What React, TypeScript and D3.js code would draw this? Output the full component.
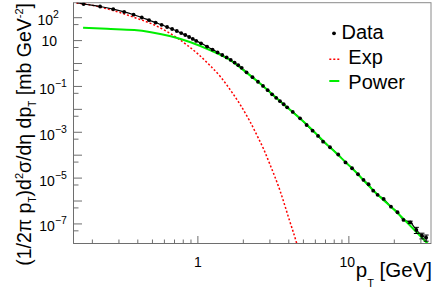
import * as d3 from "d3";

// measured spectrum (bin centres in GeV, values in mb GeV^-2)
const pT = [
  0.175, 0.225, 0.275, 0.325, 0.375, 0.425, 0.475, 0.525, 0.575, 0.625, 0.675,
  0.725, 0.775, 0.825, 0.875, 0.925, 0.975, 1.05, 1.15, 1.25, 1.35, 1.45, 1.55,
  1.65, 1.75, 1.85, 1.95, 2.1, 2.3, 2.5, 2.7, 2.9, 3.1, 3.3, 3.5, 3.7, 3.9, 4.25,
  4.75, 5.25, 5.75, 6.25, 6.75, 7.5, 8.5, 9.5, 10.5, 11.5, 12.5, 13.5, 14.5,
  15.5, 17, 19, 21, 23, 25.5, 28, 30.5, 32.5,
];
const spectrum = [
  396, 308, 235, 179, 135, 102, 77.8, 61.1, 49.0, 39.3, 32.1, 26.3, 21.3, 17.6,
  14.4, 11.8, 9.72, 7.64, 5.48, 4.06, 3.06, 2.36, 1.84, 1.43, 1.1, 0.847, 0.646,
  0.415, 0.254, 0.16, 0.105, 0.0687, 0.0455, 0.032, 0.0228, 0.0167, 0.0123,
  0.00776, 0.00408, 0.00208, 0.00117, 0.00069, 0.000389, 0.000222, 0.000107,
  4.81e-5, 2.69e-5, 1.47e-5, 8.3e-6, 5.38e-6, 2.83e-6, 1.87e-6, 1.23e-6,
  5.68e-7, 3.24e-7, 1.49e-7, 1.18e-7, 5.46e-8, 3.08e-8, 2.52e-8,
];
// relative errors, only visible at high pT
const relErr = [
  0.02, 0.02, 0.02, 0.02, 0.02, 0.02, 0.02, 0.02, 0.02, 0.02, 0.02, 0.02, 0.02,
  0.02, 0.02, 0.02, 0.02, 0.02, 0.02, 0.02, 0.02, 0.02, 0.02, 0.02, 0.02, 0.02,
  0.02, 0.02, 0.02, 0.02, 0.02, 0.02, 0.02, 0.02, 0.02, 0.02, 0.02, 0.02, 0.02,
  0.02, 0.02, 0.02, 0.02, 0.03, 0.03, 0.03, 0.03, 0.04, 0.04, 0.05, 0.05, 0.06,
  0.06, 0.08, 0.09, 0.1, 0.12, 0.3, 0.28, 0.3,
];

// total fit value at the left edge (black line)
const fitStart = [0.157, 451];

// exponential component
const expX = [0.157, 0.2, 0.2665, 0.3, 0.4, 0.5, 0.6, 0.7, 0.85, 1.0, 1.2, 1.41, 1.7, 1.91, 2.2, 2.5, 2.72, 3.0, 3.5, 4.0, 4.51, 4.7];
const expY = [440, 347, 217, 173, 90.6, 52.5, 28.8, 15.8, 6.3, 2.63, 0.83, 0.267, 0.05, 0.0158, 3.16e-3, 6.03e-4, 1.9e-4, 3.98e-5, 2.82e-6, 1.78e-7, 1.43e-8, 5.2e-9];

// power-law component
const powX = [0.1736, 0.25, 0.379, 0.489, 0.661, 0.895, 1.212, 1.65, 2.1, 2.5, 3.5, 5, 7.5, 10.5, 15, 21, 33.4];
const powY = [36.6, 32.7, 29.0, 23.3, 15.6, 8.5, 3.75, 1.36, 0.40, 0.159, 0.0228, 0.00292, 2.2e-4, 2.67e-5, 2.35e-6, 3.0e-7, 1.34e-8];

const xMajor = [1, 10];
const xLabels = ["1", "10"];
const xMinor = [0.2, 0.3, 0.4, 0.5, 0.6, 0.7, 0.8, 0.9, 2, 3, 4, 5, 6, 7, 8, 9, 20, 30];
const yDecades = [-7, -6, -5, -4, -3, -2, -1, 0, 1, 2];
const yLabelExp = [2, 1, -1, -3, -5, -7];

const W = 436;
const H = 301;
const frame = { left: 73.5, right: 431, top: 2.7, bottom: 243.5 };
const font = "'Liberation Sans', Arial, Helvetica, sans-serif";

export default function App() {
  const x = d3.scaleLog().domain([0.15, 35]).range([frame.left, frame.right]);
  const y = d3.scaleLog().domain([1.4e-8, 451]).range([frame.bottom, frame.top]);

  const line = d3
    .line<number[]>()
    .x((d) => x(d[0]))
    .y((d) => y(d[1]))
    .curve(d3.curveMonotoneX);

  const dataPts = pT.map((p, i) => [p, spectrum[i]]);
  const totalPath = line([fitStart, ...dataPts]) || "";
  const expPath = line(expX.map((p, i) => [p, expY[i]])) || "";
  const powPath = line(powX.map((p, i) => [p, powY[i]])) || "";

  const axisColor = "#6e6e6e";

  return (
    <div>
      <style>{`body{margin:0}`}</style>
      <svg width={W} height={H} style={{ display: "block", fontFamily: font }}>
        <defs>
          <clipPath id="frameClip">
            <rect
              x={frame.left}
              y={frame.top}
              width={frame.right - frame.left}
              height={frame.bottom - frame.top}
            />
          </clipPath>
        </defs>
        <rect width={W} height={H} fill="#fff" />

        {/* frame */}
        <rect
          x={frame.left}
          y={frame.top}
          width={frame.right - frame.left}
          height={frame.bottom - frame.top}
          fill="none"
          stroke="#8a8a8a"
          strokeWidth={1}
        />

        <g clipPath="url(#frameClip)">
          <path d={expPath} fill="none" stroke="#ff0000" strokeWidth={1.5} strokeDasharray="2,2" />
          <path d={totalPath} fill="none" stroke="#000" strokeWidth={1.2} />
          <path d={powPath} fill="none" stroke="#00ee00" strokeWidth={2} />
          {dataPts.map((d, i) => {
            const cx = x(d[0]);
            const yl = y(d[1] * (1 - relErr[i]));
            const yh = y(d[1] * (1 + relErr[i]));
            return (
              <g key={i}>
                <line x1={cx} x2={cx} y1={yl} y2={yh} stroke="#000" strokeWidth={1} />
                {relErr[i] > 0.1 && (
                  <>
                    <line x1={cx - 2.5} x2={cx + 2.5} y1={yl} y2={yl} stroke="#000" strokeWidth={1} />
                    <line x1={cx - 2.5} x2={cx + 2.5} y1={yh} y2={yh} stroke="#000" strokeWidth={1} />
                  </>
                )}
                <circle cx={cx} cy={y(d[1])} r={1.9} fill="#000" />
              </g>
            );
          })}
        </g>

        {/* x axis */}
        <line x1={frame.left} x2={frame.right} y1={frame.bottom} y2={frame.bottom} stroke={axisColor} />
        {xMinor.map((v) => (
          <line key={v} x1={x(v)} x2={x(v)} y1={frame.bottom} y2={frame.bottom - 4} stroke={axisColor} />
        ))}
        {xMajor.map((v, i) => (
          <g key={v}>
            <line x1={x(v)} x2={x(v)} y1={frame.bottom} y2={frame.bottom - 7.5} stroke={axisColor} />
            <text x={x(v) - (i === 1 ? 1.5 : 0)} y={266.7} fontSize={14} textAnchor="middle">
              {xLabels[i]}
            </text>
          </g>
        ))}
        <text x={432} y={277} fontSize={20.5} textAnchor="end">
          p
          <tspan fontSize={11} dy={9.5}>T</tspan>
          <tspan dy={-9.5}> [GeV]</tspan>
        </text>

        {/* y axis */}
        <line x1={frame.left} x2={frame.left} y1={frame.top} y2={frame.bottom} stroke={axisColor} />
        {yDecades.map((e) => (
          <line key={e} x1={frame.left} x2={frame.left + 8.5} y1={y(10 ** e)} y2={y(10 ** e)} stroke={axisColor} />
        ))}
        {yDecades.map((e) => (
          <line
            key={"m" + e}
            x1={frame.left}
            x2={frame.left + 5}
            y1={y(5 * 10 ** (e - 1))}
            y2={y(5 * 10 ** (e - 1))}
            stroke={axisColor}
          />
        ))}
        {yLabelExp.map((e) =>
          e === 1 ? (
            <text key={e} x={41.5} y={y(10) + 5.5} fontSize={14}>
              10
            </text>
          ) : (
            <text key={e} x={e > 0 ? 37.5 : 39.3} y={y(10 ** e) + 7.5} fontSize={14}>
              10
              <tspan fontSize={10.5} dy={-7}>
                {e < 0 ? "\u2212" + Math.abs(e) : String(e)}
              </tspan>
            </text>
          )
        )}
        <text
          transform="translate(31,3) rotate(-90)"
          fontSize={19.5}
          textAnchor="end"
        >
          (1/2π p
          <tspan fontSize={10} dy={5}>T</tspan>
          <tspan dy={-5}>)d</tspan>
          <tspan fontSize={11} dy={-8}>2</tspan>
          <tspan dy={8}>σ/dη dp</tspan>
          <tspan fontSize={10} dy={5}>T</tspan>
          <tspan dy={-5}> [mb GeV</tspan>
          <tspan fontSize={11} dy={-8}>-2</tspan>
          <tspan dy={8}>]</tspan>
        </text>

        {/* legend */}
        <circle cx={334} cy={33.3} r={1.9} fill="#000" />
        <text x={341.5} y={39} fontSize={20}>Data</text>
        <line x1={329.3} x2={339.3} y1={59.3} y2={59.3} stroke="#ff0000" strokeWidth={1.5} strokeDasharray="2,2" />
        <text x={348.3} y={64.3} fontSize={20}>Exp</text>
        <line x1={329.3} x2={339.3} y1={81} y2={81} stroke="#00ee00" strokeWidth={2} />
        <text x={348.3} y={89} fontSize={20}>Power</text>
      </svg>
    </div>
  );
}
